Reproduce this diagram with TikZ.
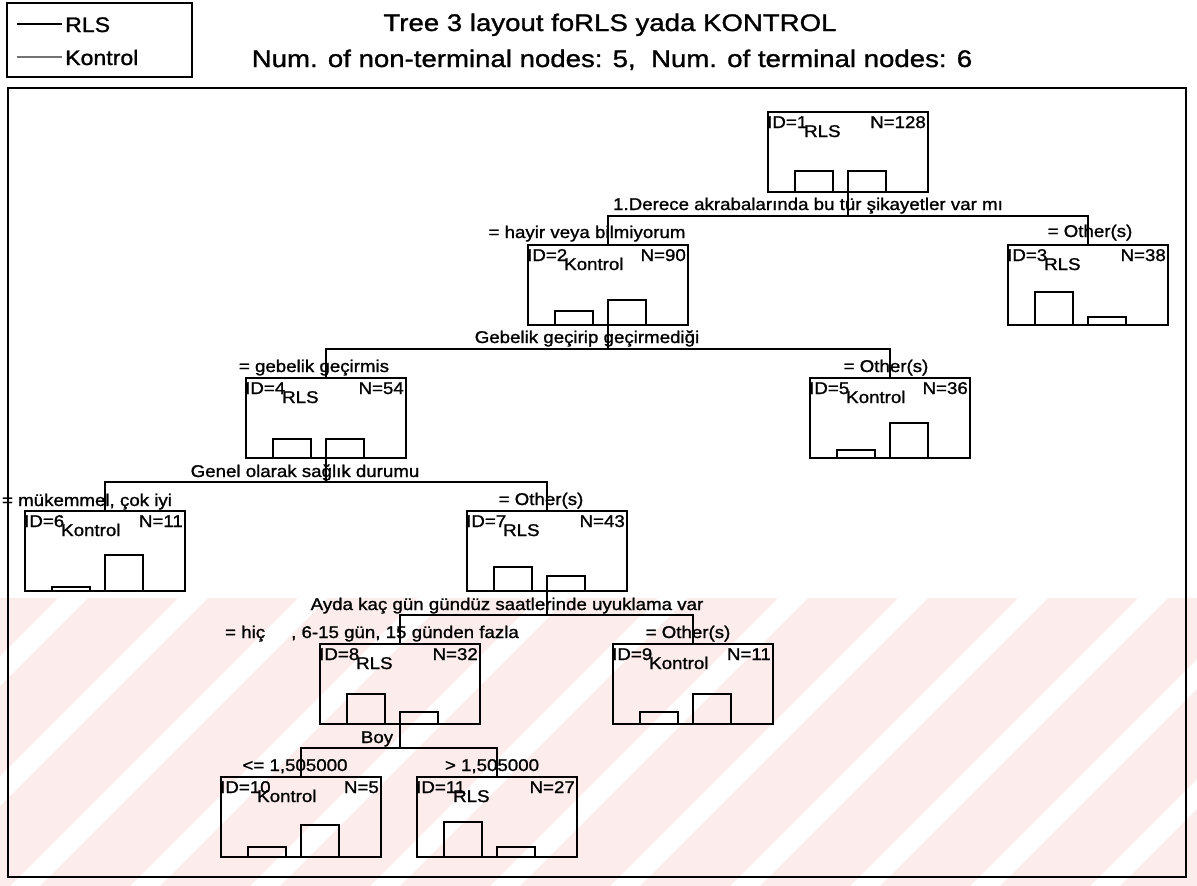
\documentclass[tikz,border=0pt]{standalone}
\usepackage{fontspec}
\setmainfont{Liberation Sans}[FakeStretch=1.1,FakeBold=1.2]
\newfontfamily\titlefont{Liberation Sans}[FakeStretch=1.15,FakeBold=1.2]
\definecolor{wmpink}{RGB}{253,236,236}
\begin{document}
\begin{tikzpicture}[x=1pt,y=-1pt,
  box/.style={draw,line width=2.2pt,minimum width=160pt,minimum height=80pt,inner sep=0pt},
  bar/.style={draw,line width=1.8pt},
  conn/.style={line width=1.7pt},
  txt/.style={font=\fontsize{17}{20}\selectfont,inner sep=0pt,anchor=base},
  leg/.style={font=\fontsize{21}{24}\selectfont,inner sep=0pt,anchor=base west},
  ttl/.style={font=\titlefont\fontsize{24}{28}\selectfont,inner sep=0pt,anchor=base},
  wm/.style={fill=wmpink,draw=none}]
\useasboundingbox (0,0) rectangle (1197,886);
\fill[white] (0,0) rectangle (1197,886);

% faint background watermark stripes
\begin{scope}
  \clip (0,598) rectangle (1197,886);
  \foreach \s in {-320,-200,...,1320}{
    \fill[wm] (\s,886) -- (\s+90,886) -- (\s+378,598) -- (\s+288,598) -- cycle;
  }
\end{scope}

\newcommand\TNode[7]{%
  \node[box] (n#1) at (#2,#3+40) {};
  \draw[bar] (#2-53,#3+80) rectangle (#2-15,#3+80-#6);
  \draw[bar] (#2,#3+80) rectangle (#2+38,#3+80-#7);
  \node[txt,anchor=base west] (n#1id) at (#2-81,#3+16) {ID=#1};
  \node[txt,anchor=base west] (n#1cl) at (#2-44,#3+25) {#4};
  \node[txt,anchor=base east] (n#1n) at (#2+78,#3+16) {N=#5};
}

% legend and titles
\node[draw,line width=1.6pt,minimum width=185pt,minimum height=74pt,inner sep=0pt] (legend) at (99.5,40) {};
\draw[line width=1.6pt] (17,24) -- (62,24);
\draw[line width=1.1pt,black!55] (17,57) -- (62,57);
\node[leg] (legrls) at (65,32) {RLS};
\node[leg] (legkon) at (65,65) {Kontrol};
\node[ttl] (title1) at (610,31) {Tree 3 layout foRLS yada KONTROL};
\node[ttl] (title2) at (612,67) {Num. of non-terminal nodes: 5,\ \ Num. of terminal nodes: 6};

% frame
\draw[line width=2.4pt] (8,88) rectangle (1186,877);

% nodes
\TNode{1}{848}{112}{RLS}{128}{21}{21}
\TNode{2}{608}{245}{Kontrol}{90}{14}{25}
\TNode{3}{1088}{245}{RLS}{38}{33}{8}
\TNode{4}{326}{378}{RLS}{54}{19}{19}
\TNode{5}{890}{378}{Kontrol}{36}{8}{35}
\TNode{6}{105}{511}{Kontrol}{11}{4}{36}
\TNode{7}{547}{511}{RLS}{43}{24}{15}
\TNode{8}{400}{644}{RLS}{32}{30}{12}
\TNode{9}{693}{644}{Kontrol}{11}{12}{30}
\TNode{10}{301}{777}{Kontrol}{5}{10}{32}
\TNode{11}{497}{777}{RLS}{27}{35}{10}

% split points
\coordinate (s1) at (848,216);
\coordinate (s2) at (608,349);
\coordinate (s4) at (326,482);
\coordinate (s7) at (547,615);
\coordinate (s8) at (400,748);

% connectors
\draw[conn] (n1.south) -- (s1);
\draw[conn] (n2.north) |- (s1);
\draw[conn] (n3.north) |- (s1);
\draw[conn] (n2.south) -- (s2);
\draw[conn] (n4.north) |- (s2);
\draw[conn] (n5.north) |- (s2);
\draw[conn] (n4.south) -- (s4);
\draw[conn] (n6.north) |- (s4);
\draw[conn] (n7.north) |- (s4);
\draw[conn] (n7.south) -- (s7);
\draw[conn] (n8.north) |- (s7);
\draw[conn] (n9.north) |- (s7);
\draw[conn] (n8.south) -- (s8);
\draw[conn] (n10.north) |- (s8);
\draw[conn] (n11.north) |- (s8);

% split labels
\node[txt] (q1) at (808,210) {1.Derece akrabalarında bu tür şikayetler var mı};
\node[txt] (q2) at (587,343) {Gebelik geçirip geçirmediği};
\node[txt] (q4) at (305,477) {Genel olarak sağlık durumu};
\node[txt] (q7) at (507,610) {Ayda kaç gün gündüz saatlerinde uyuklama var};
\node[txt] (q8) at (377,743) {Boy};

% branch labels
\node[txt] (b2) at (587,238) {= hayir veya bilmiyorum};
\node[txt] (b3) at (1090,237) {= Other(s)};
\node[txt] (b4) at (314,372) {= gebelik geçirmis};
\node[txt] (b5) at (886,372) {= Other(s)};
\node[txt] (b6) at (87,506) {= mükemmel, çok iyi};
\node[txt] (b7) at (541,505) {= Other(s)};
\node[txt] (b8) at (372,638) {= hiç\hspace{26pt}, 6-15 gün, 15 günden fazla};
\node[txt] (b9) at (688,638) {= Other(s)};
\node[txt] (b10) at (295,771) {<= 1,505000};
\node[txt] (b11) at (492,771) {> 1,505000};
\end{tikzpicture}
\end{document}
